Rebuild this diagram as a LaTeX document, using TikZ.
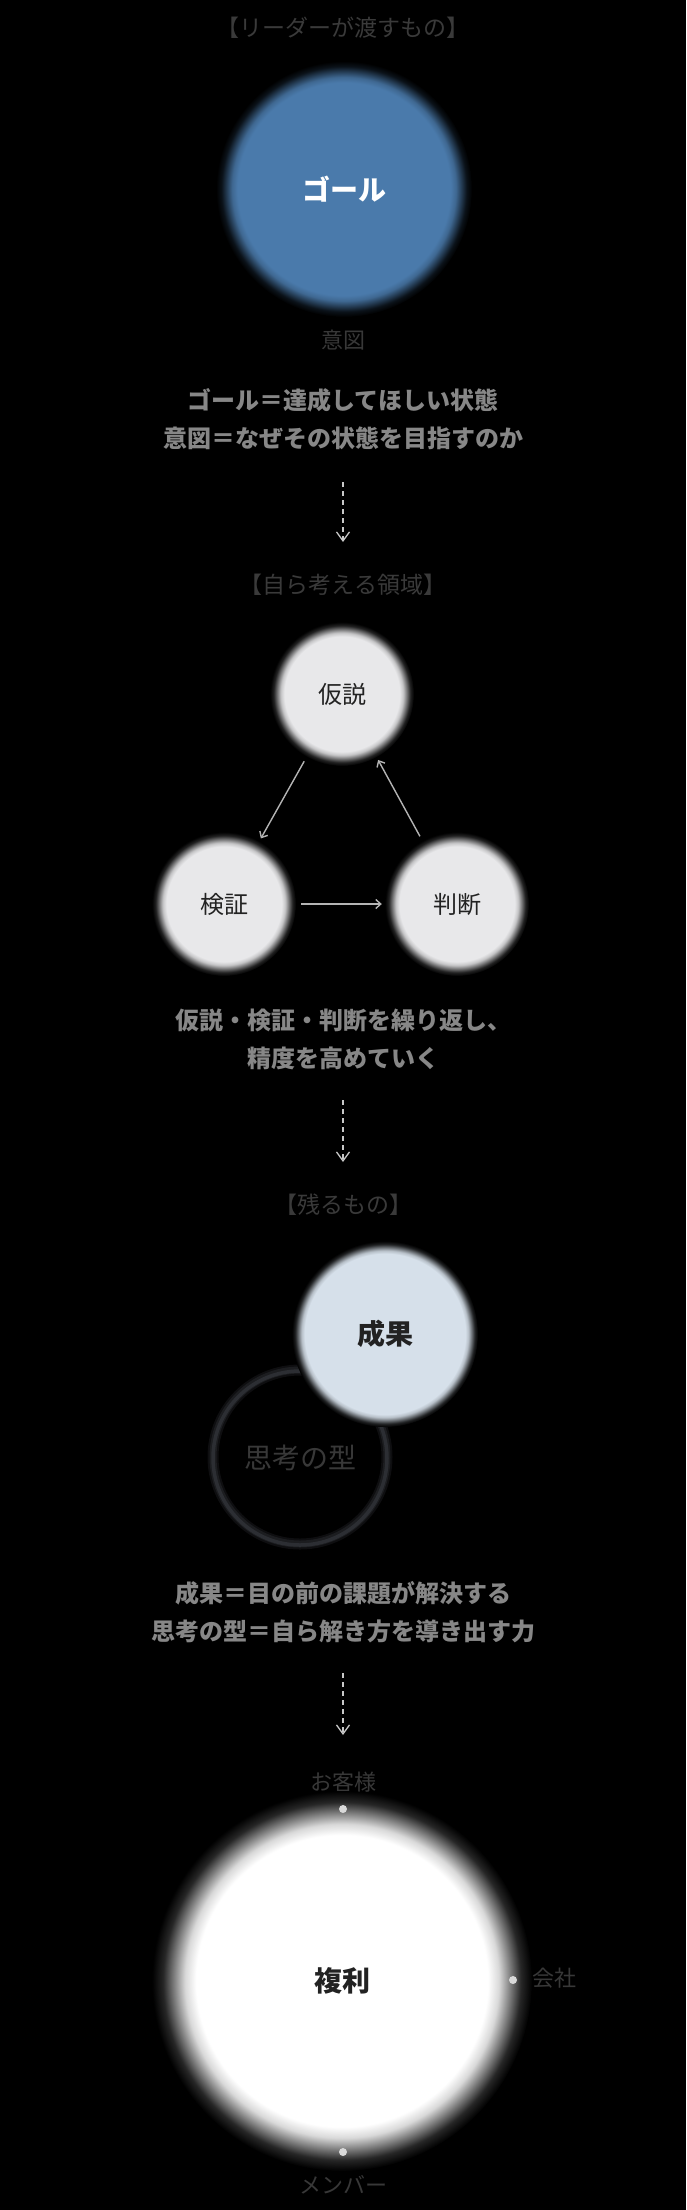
\documentclass[tikz,border=0pt]{standalone}
\usepackage{fontspec}
\setmainfont{Noto Sans CJK JP}
\usetikzlibrary{arrows.meta}
\definecolor{goalblue}{HTML}{4A7AAB}
\definecolor{trifill}{HTML}{E8E8EA}
\definecolor{seikafill}{HTML}{D6E0EA}
\definecolor{titlegray}{HTML}{3A3A3A}
\definecolor{labelgray}{HTML}{383838}
\definecolor{descgray}{HTML}{878787}
\definecolor{arrowgray}{HTML}{B4B4B4}
\definecolor{dashgray}{HTML}{C8C8C8}
\definecolor{dotgray}{HTML}{D9D9D9}
\definecolor{darktext}{HTML}{222222}
\definecolor{ringcore}{HTML}{2C2E33}
\definecolor{ringmid}{HTML}{1C1D20}
\definecolor{ringouter}{HTML}{0E0E10}
\colorlet{goalA}{goalblue!85!black}
\colorlet{goalB}{goalblue!50!black}
\colorlet{goalC}{goalblue!15!black}
\colorlet{triA}{trifill!85!black}
\colorlet{triB}{trifill!50!black}
\colorlet{triC}{trifill!15!black}
\colorlet{seikaA}{seikafill!85!black}
\colorlet{seikaB}{seikafill!50!black}
\colorlet{seikaC}{seikafill!15!black}
\colorlet{fukuriA}{white!85!black}
\colorlet{fukuriB}{white!50!black}
\colorlet{fukuriC}{white!15!black}
\pgfdeclareradialshading{goalshade}{\pgfpoint{0bp}{0bp}}{color(0bp)=(goalblue); color(20.8bp)=(goalblue); color(21.85bp)=(goalA); color(22.9bp)=(goalB); color(23.95bp)=(goalC); color(25bp)=(black); color(50bp)=(black)}
\pgfdeclareradialshading{trishade}{\pgfpoint{0bp}{0bp}}{color(0bp)=(trifill); color(20bp)=(trifill); color(21.25bp)=(triA); color(22.5bp)=(triB); color(23.75bp)=(triC); color(25bp)=(black); color(50bp)=(black)}
\pgfdeclareradialshading{seikashade}{\pgfpoint{0bp}{0bp}}{color(0bp)=(seikafill); color(21.6bp)=(seikafill); color(22.45bp)=(seikaA); color(23.3bp)=(seikaB); color(24.15bp)=(seikaC); color(25bp)=(black); color(50bp)=(black)}
\pgfdeclareradialshading{fukurishade}{\pgfpoint{0bp}{0bp}}{color(0bp)=(white); color(19.2bp)=(white); color(20.65bp)=(fukuriA); color(22.1bp)=(fukuriB); color(23.55bp)=(fukuriC); color(25bp)=(black); color(50bp)=(black)}
\tikzset{
  blob/.style={circle, inner sep=0pt},
  sectitle/.style={text=titlegray, font=\fontsize{23}{27}\selectfont},
  sublabel/.style={text=labelgray, font=\fontsize{22}{26}\selectfont},
  desc/.style={text=descgray, align=center, font=\fontsize{24}{38}\selectfont\bfseries},
  trilabel/.style={text=darktext, font=\fontsize{24}{28}\selectfont},
  biglabel/.style={font=\fontsize{28}{32}\selectfont\bfseries},
  triarrow/.style={draw=arrowgray, line width=1.4pt, -{Straight Barb[length=5pt,width=9pt]}, shorten <=5pt, shorten >=3pt},
  flowarrow/.style={draw=dashgray, line width=1.1pt, dash pattern=on 5pt off 4pt, -{Straight Barb[length=9pt,width=13pt,line width=1.3pt]}},
  dotnode/.style={circle, fill=dotgray, inner sep=0pt, minimum size=8pt}
}
\begin{document}
\begin{tikzpicture}[x=1pt,y=-1pt]
\useasboundingbox (0,0) rectangle (686,2210);
\fill[black] (0,0) rectangle (686,2210);

% section 1
\node[sectitle] (t1) at (343,28) {【リーダーが渡すもの】};
\node[blob, minimum size=256pt, shading=goalshade, text=white, biglabel] (goal) at (344,189) {ゴール};
\node[sublabel] (ito) at (343,340) {意図};
\node[desc] (d1) at (343,419) {ゴール＝達成してほしい状態\\意図＝なぜその状態を目指すのか};
\coordinate (a1s) at (343,482);
\coordinate (a1e) at (343,542);
\draw[flowarrow] (a1s) -- (a1e);

% section 2
\node[sectitle] (t2) at (343,585) {【自ら考える領域】};
\node[blob, minimum size=144pt, shading=trishade, trilabel] (kasetsu) at (342,694) {仮説};
\node[blob, minimum size=144pt, shading=trishade, trilabel] (kensho) at (224,904) {検証};
\node[blob, minimum size=144pt, shading=trishade, trilabel] (handan) at (457,904) {判断};
\draw[triarrow] (kasetsu) -- (kensho);
\draw[triarrow] (kensho) -- (handan);
\draw[triarrow] (handan) -- (kasetsu);
\node[desc] (d2) at (343,1039) {仮説・検証・判断を繰り返し、\\精度を高めていく};
\coordinate (a2s) at (343,1100);
\coordinate (a2e) at (343,1162);
\draw[flowarrow] (a2s) -- (a2e);

% section 3
\node[sectitle] (t3) at (343,1205) {【残るもの】};
\draw[draw=ringouter, line width=11pt] (300,1457) circle (87);
\draw[draw=ringmid, line width=7pt] (300,1457) circle (87);
\node[blob, minimum size=174pt, draw=ringcore, line width=3.5pt, text=labelgray, font=\fontsize{28}{32}\selectfont] (kata) at (300,1458) {思考の型};
\node[blob, minimum size=186pt, shading=seikashade, text=darktext, biglabel] (seika) at (385,1334) {成果};
\node[desc] (d3) at (343,1612) {成果＝目の前の課題が解決する\\思考の型＝自ら解き方を導き出す力};
\coordinate (a3s) at (343,1673);
\coordinate (a3e) at (343,1735);
\draw[flowarrow] (a3s) -- (a3e);

% section 4
\node[sublabel] (kyaku) at (343,1782) {お客様};
\node[blob, minimum size=380pt, shading=fukurishade, text=darktext, biglabel] (fukuri) at (342,1981) {複利};
\node[dotnode] (dtop) at (343,1809) {};
\node[dotnode] (dright) at (513,1980) {};
\node[dotnode] (dbot) at (343,2152) {};
\node[sublabel] (kaisha) at (554,1978) {会社};
\node[sublabel] (member) at (343,2185) {メンバー};
\end{tikzpicture}
\end{document}
